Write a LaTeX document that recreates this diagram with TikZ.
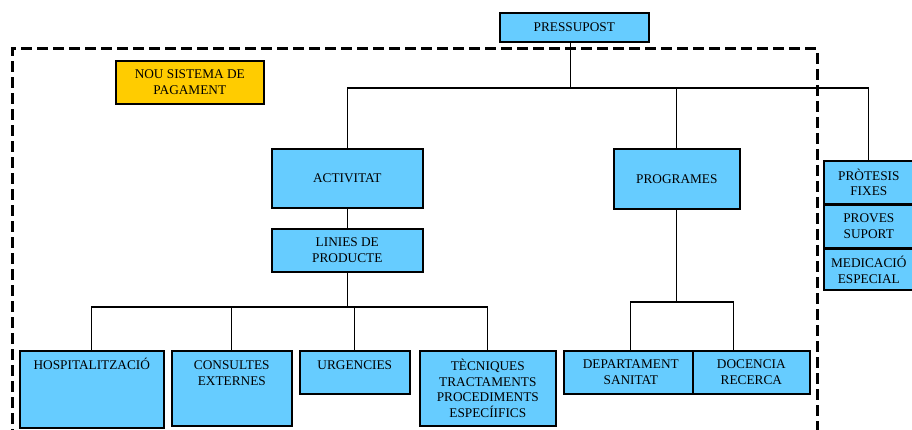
\documentclass[tikz,border=0pt]{standalone}
\usepackage{fontspec}
\setmainfont{Liberation Serif}
\usetikzlibrary{positioning, calc}
\definecolor{boxblue}{HTML}{66CCFF}
\definecolor{boxgold}{HTML}{FFCC00}

\begin{document}
\begin{tikzpicture}[
    x=1pt, y=-1pt,
    box/.style={draw, line width=1.6pt, fill=boxblue, anchor=north west, align=center,
                inner sep=0pt, font=\fontsize{13.3}{15.8}\selectfont},
    topbox/.style={box, text height=19pt},
    link/.style={line width=1.3pt},
    frame/.style={line width=3pt, dash pattern=on 11pt off 5pt},
]
    \clip (0,0) rectangle (912,430);

    % Top level
    \node[box, minimum width=149pt, minimum height=29pt] (pressupost) at (499,12) {PRESSUPOST};
    \node[box, fill=boxgold, minimum width=148pt, minimum height=43pt] (nouSistema) at (115,60) {NOU SISTEMA DE\\PAGAMENT};

    % Second level
    \node[box, minimum width=151pt, minimum height=59pt] (activitat) at (271,148) {ACTIVITAT};
    \node[box, minimum width=126pt, minimum height=60pt] (programes) at (613,148) {PROGRAMES};
    \node[box, minimum width=90pt, minimum height=43pt] (protesis) at (823,160) {PRÒTESIS\\FIXES};
    \node[box, minimum width=90pt, minimum height=42pt] (proves) at (protesis.south west) {PROVES\\SUPORT};
    \node[box, minimum width=90pt, minimum height=41pt] (medicacio) at (proves.south west) {MEDICACIÓ\\ESPECIAL};

    % Product lines
    \node[box, minimum width=151pt, minimum height=43pt] (linies) at (271,228) {LINIES DE\\PRODUCTE};
    \node[topbox, minimum width=144pt, text depth=58pt] (hosp) at (19,350) {HOSPITALITZACIÓ};
    \node[topbox, minimum width=120pt, text height=34.8pt, text depth=40.2pt] (consultes) at (171,350) {CONSULTES\\EXTERNES};
    \node[topbox, minimum width=110pt, text depth=24pt] (urgencies) at (299,350) {URGENCIES};
    \node[box, minimum width=136pt, minimum height=75pt] (tecniques) at (419,350) {TÈCNIQUES\\TRACTAMENTS\\PROCEDIMENTS\\ESPECÍIFICS};

    % Programmes
    \node[box, minimum width=134pt, minimum height=43pt] (departament) at (563,350) {DEPARTAMENT\\SANITAT};
    \node[box, minimum width=117pt, minimum height=43pt] (docencia) at (692,350) {DOCENCIA\\RECERCA};

    % Connectors
    \coordinate (topBus) at (0,88);
    \coordinate (prodBus) at (0,307);
    \coordinate (progBus) at (0,302);
    \coordinate (presStem) at ([xshift=-4pt]pressupost.south);
    \coordinate (docStem) at ([xshift=-18pt]docencia.north);

    \draw[link] (presStem) -- (presStem |- topBus);
    \draw[link] (activitat.north) |- (protesis.north |- topBus) -- (protesis.north);
    \draw[link] (programes.north) -- (programes.north |- topBus);

    \draw[link] (activitat.south) -- (linies.north);
    \draw[link] (linies.south) -- (linies.south |- prodBus);
    \draw[link] (hosp.north) |- (tecniques.north |- prodBus) -- (tecniques.north);
    \draw[link] (consultes.north) -- (consultes.north |- prodBus);
    \draw[link] (urgencies.north) -- (urgencies.north |- prodBus);

    \draw[link] (programes.south) -- (programes.south |- progBus);
    \draw[link] (departament.north) |- (docStem |- progBus) -- (docStem);

    % New payment system boundary
    \draw[frame] (12,440) -- (12,49) -- (817,49) -- (817,440);
\end{tikzpicture}
\end{document}
